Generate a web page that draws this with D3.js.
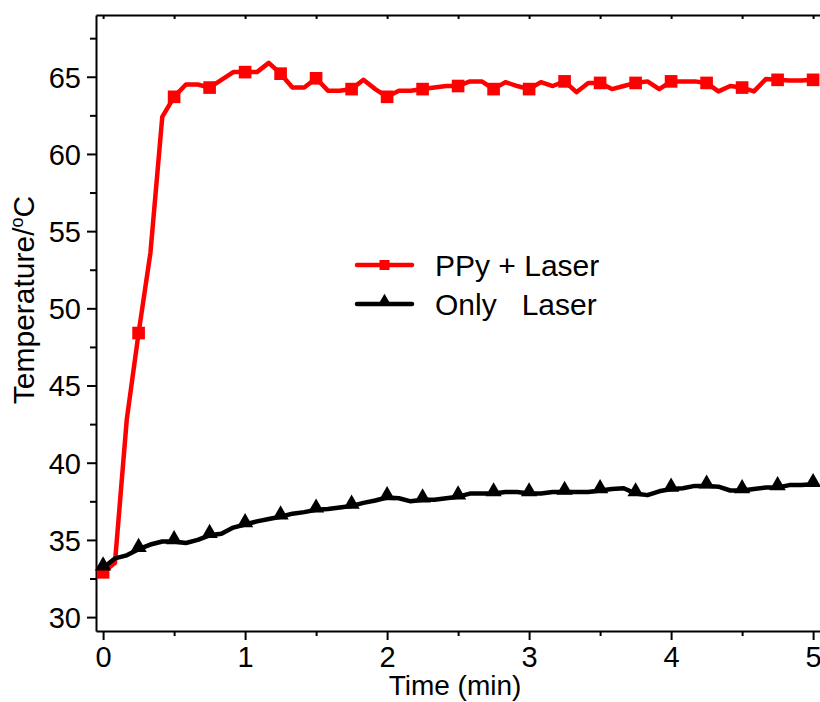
<!DOCTYPE html>
<html>
<head>
<meta charset=utf-8>
<style>
body {margin: 0; background: #fff;}
svg {display: block; font-family: 'Liberation Sans', Arial, sans-serif;}
.axis path, .axis line {stroke: #000; stroke-width: 2;}
.axis text {font-size: 29px; fill: #000;}
</style>
</head>
<body>
<svg id=chart width=820 height=702></svg>

<script src='https://cdn.jsdelivr.net/npm/d3@7'></script>
<script>
// sampling time, seconds (every 5 s)
var timeSec = [0,5,10,15,20,25,30,35,40,45,50,55,60,65,70,75,80,85,90,95,
  100,105,110,115,120,125,130,135,140,145,150,155,160,165,170,175,180,185,190,195,
  200,205,210,215,220,225,230,235,240,245,250,255,260,265,270,275,280,285,290,295,300];

var ppyLaser = [32.9,33.5,42.8,48.4,53.6,62.4,63.7,64.5,64.5,64.3,64.8,65.3,
  65.3,65.3,65.9,65.2,64.3,64.3,64.9,64.1,64.1,64.2,64.8,64.2,
  63.7,64.1,64.1,64.2,64.3,64.4,64.4,64.7,64.7,64.2,64.65,64.4,
  64.2,64.65,64.4,64.7,64.0,64.6,64.6,64.2,64.4,64.6,64.7,64.2,
  64.7,64.7,64.7,64.6,64.05,64.4,64.3,64.05,64.85,64.8,64.75,64.75,64.8];

var onlyLaser = [33.2,33.8,34.0,34.4,34.7,34.9,34.9,34.8,35.0,35.3,35.4,35.8,
  36.0,36.2,36.35,36.5,36.7,36.8,36.95,37.0,37.1,37.2,37.4,37.55,
  37.75,37.7,37.5,37.6,37.6,37.7,37.8,38.0,38.0,38.0,38.1,38.1,
  38.0,38.0,38.1,38.1,38.1,38.1,38.2,38.3,38.35,38.0,37.9,38.15,
  38.3,38.35,38.5,38.5,38.45,38.2,38.2,38.3,38.4,38.4,38.55,38.55,38.6];

var seriesNames = ['PPy + Laser', 'Only   Laser'];
var seriesColors = ['#ff0000', '#000000'];
var xTicks = [0, 1, 2, 3, 4, 5];
var yTicks = [30, 35, 40, 45, 50, 55, 60, 65];

var svg = d3.select('#chart');
var mLeft = 96, mTop = 15, mBottom = 631;

var x = d3.scaleLinear().domain([-0.05, 5.2]).range([mLeft, mLeft + 5.25 * 142]);
var y = d3.scaleLinear().domain([29.1, 69]).range([mBottom, mTop]);

var minorX = [0.5, 1.5, 2.5, 3.5, 4.5];
var minorY = [32.5, 37.5, 42.5, 47.5, 52.5, 57.5, 62.5, 67.5];

// minor ticks (extra axes without labels)
svg.append('g').attr('class', 'axis')
    .attr('transform', 'translate(0,' + mBottom + ')')
    .call(d3.axisBottom(x).tickValues(minorX).tickSize(5).tickFormat(''))
    .select('.domain').remove();
svg.append('g').attr('class', 'axis')
    .attr('transform', 'translate(' + mLeft + ',0)')
    .call(d3.axisLeft(y).tickValues(minorY).tickSize(6).tickFormat(''))
    .select('.domain').remove();

// top axis, ticks pointing inward
svg.append('g').attr('class', 'axis')
    .attr('transform', 'translate(0,' + mTop + ')')
    .call(d3.axisTop(x).tickValues(minorX.concat(xTicks)).tickSize(-4).tickSizeOuter(0).tickFormat(''));

// main axes
svg.append('g').attr('class', 'axis')
    .attr('transform', 'translate(0,' + mBottom + ')')
    .call(d3.axisBottom(x).tickValues(xTicks).tickSize(9).tickSizeOuter(0).tickPadding(6).tickFormat(d3.format('d')));
svg.append('g').attr('class', 'axis')
    .attr('transform', 'translate(' + mLeft + ',0)')
    .call(d3.axisLeft(y).tickValues(yTicks).tickSize(9).tickSizeOuter(0).tickPadding(6))
  .selectAll('text').attr('dy', '0.36em');

// axis titles
svg.append('text')
    .attr('x', 455).attr('y', 695)
    .attr('text-anchor', 'middle')
    .style('font-size', '28px')
    .text('Time (min)');

var yt = svg.append('text')
    .attr('transform', 'translate(34,300) rotate(-90)')
    .attr('text-anchor', 'middle')
    .style('font-size', '30px');
yt.append('tspan').text('Temperature/');
yt.append('tspan').attr('dy', -11).style('font-size', '18px').text('o');
yt.append('tspan').attr('dy', 11).text('C');

// lines + markers
var series = [ppyLaser, onlyLaser];
var line = d3.line()
    .x(function(d, i) { return x(timeSec[i] / 60); })
    .y(function(d) { return y(d); });

var square = d3.symbol().type(d3.symbolSquare).size(160);
var triangle = d3.symbol().type(d3.symbolTriangle).size(115);
var shapes = [square, triangle];

series.forEach(function(vals, k) {
  svg.append('path')
      .datum(vals)
      .attr('fill', 'none')
      .attr('stroke', seriesColors[k])
      .attr('stroke-width', 4.5)
      .attr('stroke-linejoin', 'round')
      .attr('d', line);
  svg.selectAll('.m' + k)
    .data(vals.filter(function(d, i) { return i % 3 === 0; }))
    .enter().append('path')
      .attr('class', 'm' + k)
      .attr('fill', seriesColors[k])
      .attr('transform', function(d, i) {
        return 'translate(' + x(timeSec[i * 3] / 60) + ',' + (y(d) - (k ? 2 : 0)) + ')';
      })
      .attr('d', shapes[k]);
});

// legend
var legend = svg.append('g');
seriesNames.forEach(function(name, k) {
  var ly = 265 + k * 39;
  legend.append('line')
      .attr('x1', 357).attr('x2', 412).attr('y1', ly).attr('y2', ly)
      .attr('stroke', seriesColors[k]).attr('stroke-width', 4.5).attr('stroke-linecap', 'round');
  legend.append('path')
      .attr('transform', 'translate(384.5,' + (ly - (k ? 3 : 0)) + ')')
      .attr('fill', seriesColors[k])
      .attr('d', k ? d3.symbol().type(d3.symbolTriangle).size(70) : d3.symbol().type(d3.symbolSquare).size(100));
  legend.append('text')
      .attr('x', 435).attr('y', ly + 11)
      .style('font-size', '30px')
      .style('white-space', 'pre')
      .text(name);
});
</script>
</body>
</html>
